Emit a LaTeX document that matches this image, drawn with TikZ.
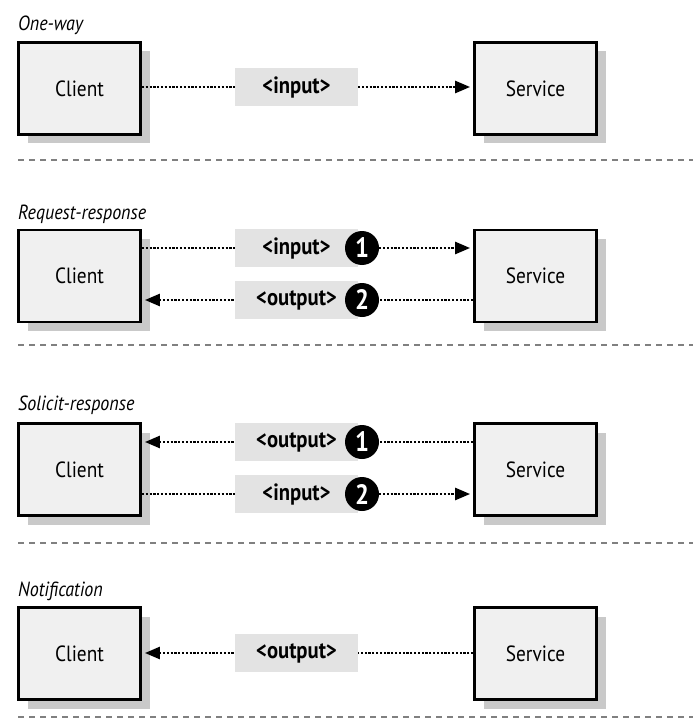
\documentclass[tikz,border=0pt]{standalone}
\usepackage{fontspec}
\setmainfont{PT Sans}[FakeStretch=0.88]
\usetikzlibrary{arrows.meta,shadows}

\tikzset{
	box/.style = {draw = black, line width = 2.8pt, fill = gray!12, minimum width = 122pt, minimum height = 92pt, inner sep = 0pt, font = \fontsize{22}{26}\selectfont, drop shadow = {shadow xshift = 9pt, shadow yshift = -9pt, fill = gray!60, opacity = 0.7}},
	msg/.style = {fill = gray!22, minimum width = 123pt, minimum height = 38pt, inner sep = 0pt, font = \bfseries\fontsize{23.5}{26}\selectfont},
	num/.style = {circle, fill = black, text = white, minimum size = 34pt, inner sep = 0pt, font = \bfseries\fontsize{28}{30}\selectfont},
	flow/.style = {line width = 2.5pt, dash pattern = on 2.2pt off 1.6pt},
	tip/.style = {-{Triangle[length = 15pt, width = 12pt]}},
	tipl/.style = {{Triangle[length = 15pt, width = 12pt]}-},
	sep/.style = {gray, line width = 1.8pt, dash pattern = on 6pt off 5pt},
	heading/.style = {anchor = base west, inner sep = 0pt, font = \itshape\fontsize{20.5}{22}\selectfont}
}

\begin{document}
\begin{tikzpicture}[x = 1pt, y = -1pt]
	\useasboundingbox (0,0) rectangle (693,727);
	
	% one-way
	\node[heading] (t1) at (18,31) {One-way};
	\node[box] (cl1) at (79.5,88.5) {Client};
	\node[box] (sv1) at (535.5,88.5) {Service};
	\node[msg] (in1) at (296.5,87) {<input>};
	\draw[flow] (cl1.east |- in1) -- (in1.west);
	\draw[flow, tip, shorten > = 3pt] (in1.east) -- (sv1.west |- in1);
	\draw[sep] (18,160) -- (693,160);
	
	% request-response
	\node[heading] (t2) at (18,219) {Request-response};
	\node[box] (cl2) at (79.5,276) {Client};
	\node[box] (sv2) at (535.5,276) {Service};
	\node[msg] (in2) at (296.5,248) {<input>};
	\node[msg] (out2) at (296.5,300) {<output>};
	\node[num] (n21) at (362,248) {1};
	\node[num] (n22) at (362,300) {2};
	\draw[flow] (cl2.east |- in2) -- (in2.west);
	\draw[flow, tip, shorten > = 3pt] (n21.east) -- (sv2.west |- n21);
	\draw[flow] (sv2.west |- n22) -- (n22.east);
	\draw[flow, tipl, shorten < = 3pt] (cl2.east |- out2) -- (out2.west);
	\draw[sep] (18,345) -- (693,345);
	
	% solicit-response
	\node[heading] (t3) at (18,410) {Solicit-response};
	\node[box] (cl3) at (79.5,469.5) {Client};
	\node[box] (sv3) at (535.5,469.5) {Service};
	\node[msg] (out3) at (296.5,442) {<output>};
	\node[msg] (in3) at (296.5,494) {<input>};
	\node[num] (n31) at (362,442) {1};
	\node[num] (n32) at (362,494) {2};
	\draw[flow, tipl, shorten < = 3pt] (cl3.east |- out3) -- (out3.west);
	\draw[flow] (sv3.west |- n31) -- (n31.east);
	\draw[flow] (cl3.east |- in3) -- (in3.west);
	\draw[flow, tip, shorten > = 3pt] (n32.east) -- (sv3.west |- n32);
	\draw[sep] (18,543) -- (693,543);
	
	% notification
	\node[heading] (t4) at (18,596) {Notification};
	\node[box] (cl4) at (79.5,653.5) {Client};
	\node[box] (sv4) at (535.5,653.5) {Service};
	\node[msg] (out4) at (296.5,653) {<output>};
	\draw[flow, tipl, shorten < = 3pt] (cl4.east |- out4) -- (out4.west);
	\draw[flow] (sv4.west |- out4) -- (out4.east);
	\draw[sep] (18,717) -- (693,717);
	
\end{tikzpicture}
\end{document}
